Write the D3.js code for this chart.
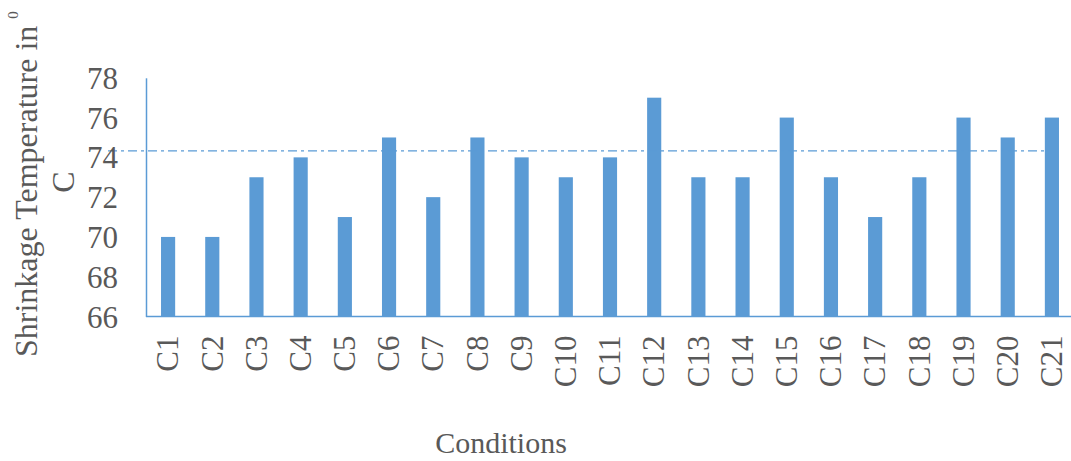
<!DOCTYPE html>
<html>
<head>
<meta charset="utf-8">
<script src="https://cdn.jsdelivr.net/npm/d3@7"></script>
<style>
  html, body { margin: 0; padding: 0; background: #ffffff; }
  svg { display: block; }
</style>
</head>
<body>
<svg id="chart" width="1071" height="461"></svg>
<script>
const categories = ["C1","C2","C3","C4","C5","C6","C7","C8","C9","C10","C11","C12","C13","C14","C15","C16","C17","C18","C19","C20","C21"];
const temperatures = [70,70,73,74,71,75,72,75,74,73,74,77,73,73,76,73,71,73,76,75,76];
const referenceLine = [74.33];
const yTicks = [66,68,70,72,74,76,78];
const xTitle = "Conditions";
const yTitleLine1 = "Shrinkage Temperature in";
const yTitleSup = "0";
const yTitleLine2 = "C";

const svg = d3.select("#chart");
const font = "'Liberation Serif', 'Times New Roman', serif";
const textColor = "#595959";
const barColor = "#5B9BD5";

const x = d3.scaleBand().domain(categories).range([146, 1074]).paddingInner(0.68).paddingOuter(0.34);
const y = d3.scaleLinear().domain([66, 78]).range([316.5, 77.8]);

// bars
svg.append("g").selectAll("rect")
  .data(categories)
  .join("rect")
  .attr("x", (d) => x(d))
  .attr("width", x.bandwidth())
  .attr("y", (d, i) => y(temperatures[i]))
  .attr("height", (d, i) => y(66) - y(temperatures[i]))
  .attr("fill", barColor);

// reference dash-dot line
svg.append("g").selectAll("line")
  .data(referenceLine)
  .join("line")
  .attr("x1", 108)
  .attr("x2", 1044)
  .attr("y1", (d) => y(d))
  .attr("y2", (d) => y(d))
  .attr("stroke", barColor)
  .attr("stroke-width", 1.3)
  .attr("stroke-dasharray", "9,4,3,4");

// y axis
const yAxis = d3.axisLeft(y).tickValues(yTicks).tickSize(0).tickPadding(28);
const gy = svg.append("g").attr("transform", "translate(146,0)").call(yAxis);
gy.select(".domain").attr("stroke", barColor).attr("stroke-width", 1.5);
gy.selectAll("text")
  .attr("font-family", font)
  .attr("font-size", 31)
  .attr("fill", textColor)
  .attr("dy", "0.34em");

// x axis
const xAxis = d3.axisBottom(x).tickSize(0).tickSizeOuter(0);
const gx = svg.append("g").attr("transform", `translate(0,${y(66)})`).call(xAxis);
gx.select(".domain").attr("stroke", barColor).attr("stroke-width", 1.5).attr("d", "M146,0H1071");
gx.selectAll("text")
  .attr("font-family", font)
  .attr("font-size", 31)
  .attr("fill", textColor)
  .attr("text-anchor", "end")
  .attr("transform", "rotate(-90)")
  .attr("x", -19)
  .attr("y", 0)
  .attr("dy", "0.33em");

// x title
svg.append("text")
  .attr("x", 501)
  .attr("y", 453)
  .attr("text-anchor", "middle")
  .attr("font-family", font)
  .attr("font-size", 30)
  .attr("fill", textColor)
  .text(xTitle);

// y title (two lines)
const yt1 = svg.append("text")
  .attr("transform", "translate(37,357) rotate(-90)")
  .attr("text-anchor", "start")
  .attr("font-family", font)
  .attr("font-size", 32)
  .attr("fill", textColor);
yt1.append("tspan").text(yTitleLine1);
yt1.append("tspan").attr("font-size", 15).attr("dx", 7).attr("dy", -19).text(yTitleSup);

svg.append("text")
  .attr("transform", "translate(74,182) rotate(-90)")
  .attr("text-anchor", "middle")
  .attr("font-family", font)
  .attr("font-size", 32)
  .attr("fill", textColor)
  .text(yTitleLine2);
</script>
</body>
</html>
